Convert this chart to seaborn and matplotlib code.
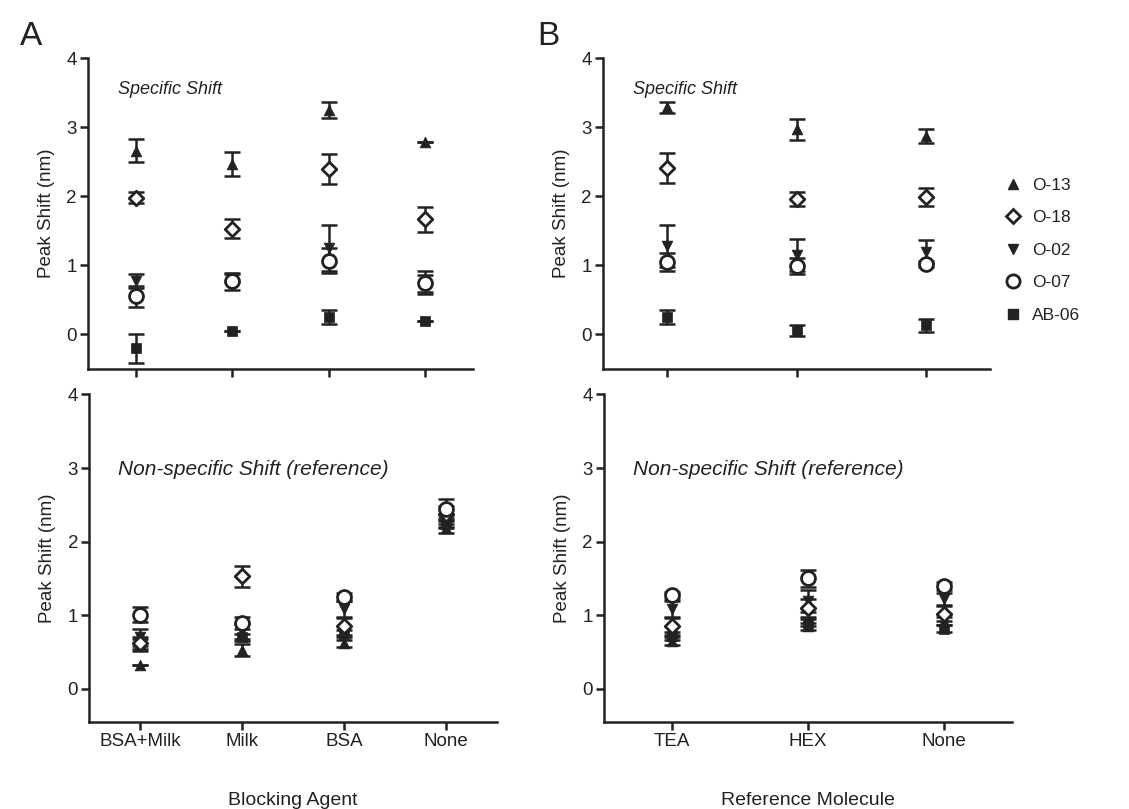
import matplotlib
matplotlib.use("Agg")
import matplotlib.pyplot as plt
import seaborn as sns
import numpy as np

sns.set_style("ticks")
plt.rcParams['font.family'] = ['Liberation Sans', 'DejaVu Sans']

# categories
blocking = ['BSA+Milk', 'Milk', 'BSA', 'None']
reference = ['TEA', 'HEX', 'None']
series = ['O-13', 'O-18', 'O-02', 'O-07', 'AB-06']

# specific shift, blocking agent (panel A top)
a_spec = {
    'O-13': [2.66, 2.47, 3.25, 2.79],
    'O-18': [1.98, 1.53, 2.40, 1.67],
    'O-02': [0.77, 0.82, 1.25, 0.74],
    'O-07': [0.55, 0.77, 1.07, 0.75],
    'AB-06': [-0.20, 0.05, 0.25, 0.20],
}
a_spec_err = {
    'O-13': [0.17, 0.17, 0.12, 0.0],
    'O-18': [0.08, 0.14, 0.22, 0.18],
    'O-02': [0.10, 0.06, 0.33, 0.12],
    'O-07': [0.15, 0.12, 0.18, 0.17],
    'AB-06': [0.21, 0.0, 0.10, 0.0],
}
# non-specific shift, blocking agent (panel A bottom)
a_ref = {
    'O-13': [0.33, 0.53, 0.62, 2.18],
    'O-18': [0.62, 1.53, 0.85, 2.38],
    'O-02': [0.70, 0.78, 1.08, 2.28],
    'O-07': [1.01, 0.90, 1.25, 2.45],
    'AB-06': [0.60, 0.70, 0.75, 2.24],
}
a_ref_err = {
    'O-13': [0.0, 0.08, 0.05, 0.06],
    'O-18': [0.08, 0.14, 0.12, 0.10],
    'O-02': [0.12, 0.10, 0.12, 0.08],
    'O-07': [0.10, 0.08, 0.05, 0.13],
    'AB-06': [0.08, 0.05, 0.05, 0.06],
}
# specific shift, reference molecule (panel B top)
b_spec = {
    'O-13': [3.29, 2.97, 2.87],
    'O-18': [2.41, 1.96, 1.99],
    'O-02': [1.28, 1.15, 1.20],
    'O-07': [1.05, 0.99, 1.02],
    'AB-06': [0.25, 0.06, 0.13],
}
b_spec_err = {
    'O-13': [0.08, 0.15, 0.10],
    'O-18': [0.22, 0.10, 0.13],
    'O-02': [0.30, 0.23, 0.17],
    'O-07': [0.13, 0.12, 0.05],
    'AB-06': [0.10, 0.08, 0.10],
}
# non-specific shift, reference molecule (panel B bottom)
b_ref = {
    'O-13': [0.65, 0.85, 0.92],
    'O-18': [0.85, 1.10, 1.02],
    'O-02': [1.08, 1.20, 1.22],
    'O-07': [1.27, 1.50, 1.40],
    'AB-06': [0.72, 0.90, 0.82],
}
b_ref_err = {
    'O-13': [0.05, 0.05, 0.05],
    'O-18': [0.12, 0.12, 0.10],
    'O-02': [0.12, 0.15, 0.08],
    'O-07': [0.05, 0.12, 0.05],
    'AB-06': [0.05, 0.05, 0.05],
}

ink = '#222222'
styles = {
    'O-13': dict(marker='^', s=60, filled=True),
    'O-18': dict(marker='D', s=55, filled=False),
    'O-02': dict(marker='v', s=60, filled=True),
    'O-07': dict(marker='o', s=100, filled=False),
    'AB-06': dict(marker='s', s=55, filled=True),
}
order = ['AB-06', 'O-13', 'O-02', 'O-18', 'O-07']

fig = plt.figure(figsize=(11.29, 8.09), dpi=100)
ax_a1 = fig.add_axes([0.078, 0.544, 0.341, 0.384])
ax_a2 = fig.add_axes([0.079, 0.1075, 0.361, 0.405])
ax_b1 = fig.add_axes([0.534, 0.544, 0.343, 0.384])
ax_b2 = fig.add_axes([0.535, 0.1075, 0.361, 0.405])


def draw(ax, cats, vals, errs):
    x = np.arange(len(cats))
    for name in order:
        st = styles[name]
        ax.errorbar(x, vals[name], yerr=errs[name], fmt='none', ecolor=ink,
                    elinewidth=1.8, capsize=6, capthick=1.8, zorder=2)
        if st['filled']:
            sns.scatterplot(x=x, y=vals[name], marker=st['marker'], s=st['s'],
                            color=ink, edgecolor=ink, linewidth=0.5, ax=ax, zorder=3)
        else:
            sns.scatterplot(x=x, y=vals[name], marker=st['marker'], s=st['s'],
                            facecolor='white', edgecolor=ink, linewidth=2, ax=ax, zorder=4)
    ax.set_xticks(x)
    ax.set_xlim(-0.5, len(cats) - 0.5)
    ax.set_yticks([0, 1, 2, 3, 4])
    ax.set_ylabel('Peak Shift (nm)', fontsize=13.5, color=ink, labelpad=8)
    for sp in ['top', 'right']:
        ax.spines[sp].set_visible(False)
    for sp in ['left', 'bottom']:
        ax.spines[sp].set_linewidth(1.8)
        ax.spines[sp].set_color(ink)
    ax.tick_params(width=1.8, length=6, labelsize=13.5, colors=ink, pad=2)


draw(ax_a1, blocking, a_spec, a_spec_err)
draw(ax_a2, blocking, a_ref, a_ref_err)
draw(ax_b1, reference, b_spec, b_spec_err)
draw(ax_b2, reference, b_ref, b_ref_err)

for ax in [ax_a1, ax_b1]:
    ax.set_ylim(-0.5, 4)
    ax.set_xticklabels([])
    ax.text(0.078, 0.90, 'Specific Shift', transform=ax.transAxes, fontsize=13,
            style='italic', va='center', color=ink)
for ax in [ax_a2, ax_b2]:
    ax.set_ylim(-0.45, 4)
    ax.text(0.071, 0.77, 'Non-specific Shift (reference)', transform=ax.transAxes,
            fontsize=15, style='italic', va='center', color=ink)

ax_a2.set_xticklabels(blocking)
ax_b2.set_xticklabels(reference)
ax_a2.set_xlabel('Blocking Agent', fontsize=14, labelpad=30, color=ink)
ax_b2.set_xlabel('Reference Molecule', fontsize=14, labelpad=30, color=ink)

fig.text(0.018, 0.955, 'A', fontsize=24, color=ink, va='center')
fig.text(0.476, 0.955, 'B', fontsize=24, color=ink, va='center')

# legend
handles = []
for name in series:
    st = styles[name]
    if st['filled']:
        h = plt.Line2D([], [], ls='none', marker=st['marker'], color=ink,
                       markersize=np.sqrt(st['s']) * 0.95)
    else:
        h = plt.Line2D([], [], ls='none', marker=st['marker'], markerfacecolor='white',
                       markeredgecolor=ink, markeredgewidth=2,
                       markersize=np.sqrt(st['s']) * 0.95)
    handles.append(h)
fig.legend(handles, series, loc='upper left', bbox_to_anchor=(0.874, 0.8),
           frameon=False, fontsize=12.5, handletextpad=0.5, labelspacing=1.0,
           handlelength=1.2, labelcolor=ink)

fig.savefig('out.png', dpi=100)
